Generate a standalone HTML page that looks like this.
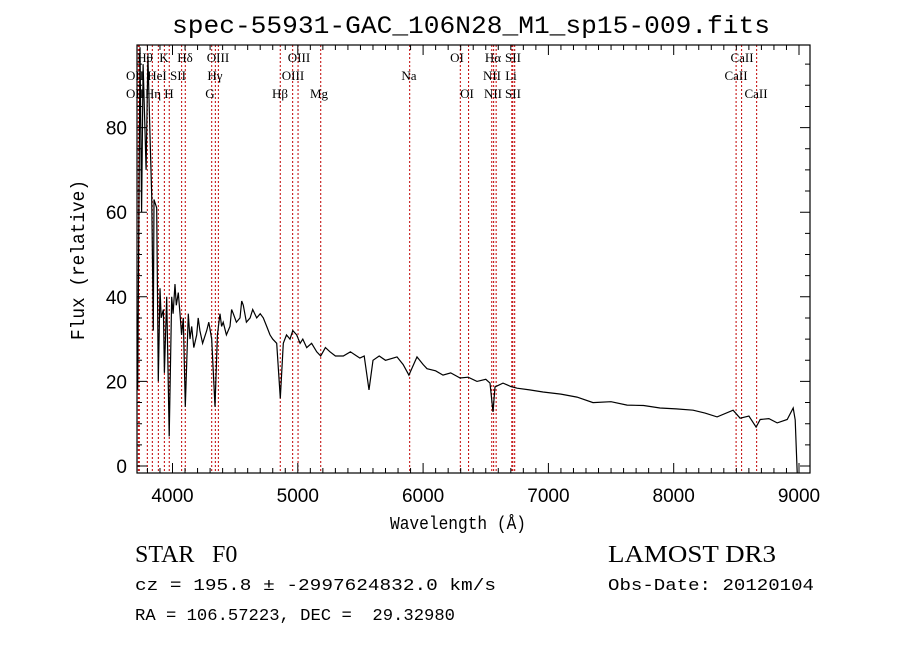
<!DOCTYPE html>
<html><head><meta charset="utf-8"><style>
html,body{margin:0;padding:0;background:#fff;}
svg{display:block;}
text{fill:#000;}
.sans{font-family:"Liberation Sans",sans-serif;}
.mono{font-family:"Liberation Mono",monospace;}
.serif{font-family:"Liberation Serif",serif;}
.lbl{font-family:"Liberation Serif",serif;font-size:13px;text-anchor:middle;}
</style></head><body>
<svg id="chart" width="900" height="649" viewBox="0 0 900 649">
<rect width="900" height="649" fill="#fff"/>
<text class="mono" x="172" y="33" style="font-size:25px" textLength="598" lengthAdjust="spacingAndGlyphs">spec-55931-GAC_106N28_M1_sp15-009.fits</text>
<g id="lines"></g>
<g id="ticks"></g>
<path id="spec" fill="none" stroke="#000" stroke-width="1.2"/>
<rect x="137" y="45" width="673" height="428" fill="none" stroke="#000" stroke-width="1.2"/>
<text class="mono" x="390" y="529" style="font-size:18px" textLength="136" lengthAdjust="spacingAndGlyphs">Wavelength (Å)</text>
<text class="mono" transform="translate(84,340) rotate(-90)" style="font-size:19px" textLength="160" lengthAdjust="spacingAndGlyphs">Flux (relative)</text>
<text class="serif" x="135" y="562" style="font-size:24px">STAR</text>
<text class="serif" x="212" y="562" style="font-size:24px">F0</text>
<text class="serif" x="608" y="562" style="font-size:24px" textLength="168" lengthAdjust="spacingAndGlyphs">LAMOST DR3</text>
<text class="mono" x="135" y="590" style="font-size:17px" textLength="361" lengthAdjust="spacingAndGlyphs">cz = 195.8 ± -2997624832.0 km/s</text>
<text class="mono" x="608" y="590" style="font-size:17px" textLength="206" lengthAdjust="spacingAndGlyphs">Obs-Date: 20120104</text>
<text class="mono" x="135" y="620" style="font-size:17px" textLength="320" lengthAdjust="spacingAndGlyphs">RA = 106.57223, DEC = &#160;29.32980</text>
</svg>
<script>
const wavelengths=[3719,3722,3741,3753,3765,3789,3804,3820,3834,3847,3852,3874,3887,3900,3910,3927,3935,3954,3974,3994,4005,4020,4030,4046,4060,4073,4086,4102,4126,4140,4153,4170,4193,4205,4219,4240,4273,4290,4313,4339,4358,4379,4392,4405,4430,4459,4472,4485,4510,4539,4552,4565,4590,4619,4640,4672,4700,4725,4752,4778,4800,4832,4860,4884,4910,4938,4960,4991,5018,5040,5071,5110,5151,5183,5220,5257,5300,5363,5420,5470,5496,5530,5568,5600,5650,5700,5792,5840,5887,5951,6000,6031,6100,6159,6220,6295,6360,6430,6500,6534,6558,6574,6638,6700,6750,6850,6957,7100,7228,7356,7500,7628,7760,7891,8020,8155,8250,8346,8474,8530,8600,8658,8690,8760,8826,8906,8954,8970,8986];
const fluxes=[36,18,99,60,95,70,97,79,64,32,63,61,20,42,35,37,22,40,7,40,36,43,38,41,36,31,35,14,36,30,33,28,31,35,32,29,32,34,30,14,31,36,33,34,31,33,37,36,34,35,39,38,34,35,37,35,36,35,33,31,30,29,16,29,31,30,32,31,29,30,28,29,27,26,28,27,26,26,27,26,25.5,26,18,25,26,25,25.8,24,21.5,25.8,24,23,22.5,21.5,22,20.8,21,20,20.5,19.6,12.8,18.7,19.6,18.8,18.4,18,17.5,17,16.3,15,15.2,14.4,14.3,13.7,13.5,13.2,12.5,11.6,13.2,11.3,11.8,9.2,11,11.2,10.2,11,13.7,10.9,-1.6];
const lineWaves=[3727,3735,3799,3839,3887,3935,3974,4073,4102,4313,4342,4366,4860,4959,5002,5183,5893,6297,6363,6548,6563,6583,6708,6716,6731,8498,8542,8662];
const lineLabels=[["Hθ",145,57],["K",164,57],["Hδ",185,57],["OIII",218,57],["OIII",299,57],["OI",457,57],["Hα",493,57],["SII",513,57],["CaII",742,57],
["OII",135,75],["HeI",157,75],["SII",178,75],["Hγ",215,75],["OIII",293,75],["Na",409,75],["NII",492,75],["Li",511,75],["CaII",736,75],
["OII",135,93],["Hη",153,93],["H",169,93],["G",210,93],["Hβ",280,93],["Mg",319,93],["OI",467,93],["NII",493,93],["SII",513,93],["CaII",756,93]];
const xTicks=[4000,5000,6000,7000,8000,9000];
const yTicks=[0,20,40,60,80];
const NS='http://www.w3.org/2000/svg';
const X0=137,X1=810,Y0=45,Y1=473;
function xs(w){return 172.5+(w-4000)*0.1253;}
function ys(f){return 466-f*4.23;}
function mk(tag,attrs,parent){const e=document.createElementNS(NS,tag);for(const k in attrs)e.setAttribute(k,attrs[k]);parent.appendChild(e);return e;}
const lg=document.getElementById('lines');
lineWaves.forEach(w=>{const l=mk('line',{x1:xs(w),x2:xs(w),y1:Y0,y2:Y1,stroke:'#c00000','stroke-width':1,'stroke-dasharray':'2,2'},lg);

});
lineLabels.forEach(a=>{const t=mk('text',{x:a[1],y:a[2]+5,class:'lbl'},lg);t.textContent=a[0];

});
const tg=document.getElementById('ticks');
let d='';
for(let w=3800;w<=9000;w+=100){const x=xs(w);const big=w%1000===0;const L=big?10:5;d+=`M${x},${Y1}v${-L}M${x},${Y0}v${L}`;}
for(let f=0;f<=95;f+=5){const y=ys(f);const big=f%20===0;const L=big?10:5;d+=`M${X0},${y}h${L}M${X1},${y}h${-L}`;}
mk('path',{d:d,stroke:'#000','stroke-width':1,fill:'none'},tg);
xTicks.forEach(w=>{const t=mk('text',{x:xs(w),y:502,class:'sans',style:'font-size:19px','text-anchor':'middle'},tg);t.textContent=w;

});
yTicks.forEach(f=>{const t=mk('text',{x:127,y:ys(f)+7,class:'sans',style:'font-size:19px','text-anchor':'end'},tg);t.textContent=f;

});
let p='';
wavelengths.forEach((w,i)=>{const f=Math.min(fluxes[i],99.4);p+=(i?'L':'M')+xs(w).toFixed(1)+','+ys(f).toFixed(1);});
document.getElementById('spec').setAttribute('d',p);
</script>
</body></html>
